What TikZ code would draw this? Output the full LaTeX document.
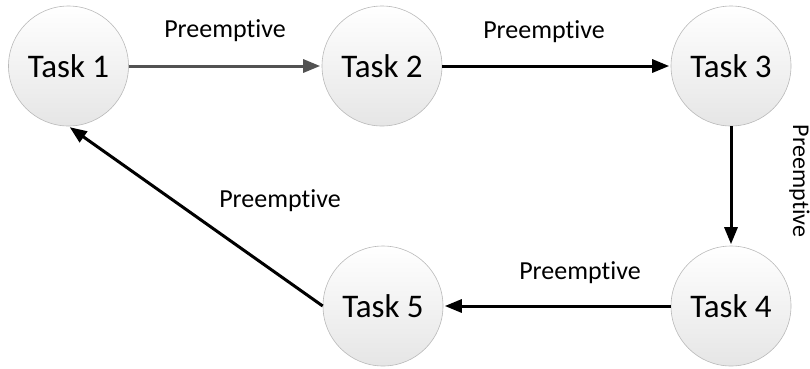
\documentclass[tikz,border=0pt]{standalone}
\usepackage{fontspec}
\setmainfont[Ligatures=NoCommon]{Carlito}
\usetikzlibrary{arrows.meta}
\tikzset{
  task/.style={circle, draw=gray!55, line width=0.6pt, minimum size=120pt, inner sep=0pt,
    top color=white, bottom color=gray!20, font=\fontsize{33}{36}\selectfont},
  flow/.style={line width=3pt, draw=black, shorten >=1.5pt,
    -{Triangle[length=17pt,width=13pt]}},
  flowgray/.style={flow, draw=black!68},
  lbl/.style={font=\fontsize{26}{28}\selectfont, inner sep=0pt, anchor=base},
  vlbl/.style={lbl, font=\fontsize{24}{26}\selectfont, rotate=-90}
}
\begin{document}
\begin{tikzpicture}[x=1pt, y=-1pt]
  \useasboundingbox (0,0) rectangle (810,368);
  % the five tasks
  \node[task] (t1) at (68.5,66) {Task 1};
  \node[task] (t2) at (382,66) {Task 2};
  \node[task] (t3) at (731,66) {Task 3};
  \node[task] (t4) at (731,306) {Task 4};
  \node[task] (t5) at (383,306) {Task 5};
  % transitions
  \draw[flowgray] (t1.east) -- (t2.west);
  \draw[flow] (t2.east) -- (t3.west);
  \draw[flow] (t3.south) -- (t4.north);
  \draw[flow] (t4.west) -- (t5.east);
  \draw[flow] (t5.west) -- (t1.south);
  % labels (placed by their baselines)
  \node[lbl] (l1) at (225,37) {Preemptive};
  \node[lbl] (l2) at (544,38) {Preemptive};
  \node[vlbl] (l3) at (793,181) {Preemptive};
  \node[lbl] (l4) at (580,279) {Preemptive};
  \node[lbl] (l5) at (280,207) {Preemptive};
\end{tikzpicture}
\end{document}
